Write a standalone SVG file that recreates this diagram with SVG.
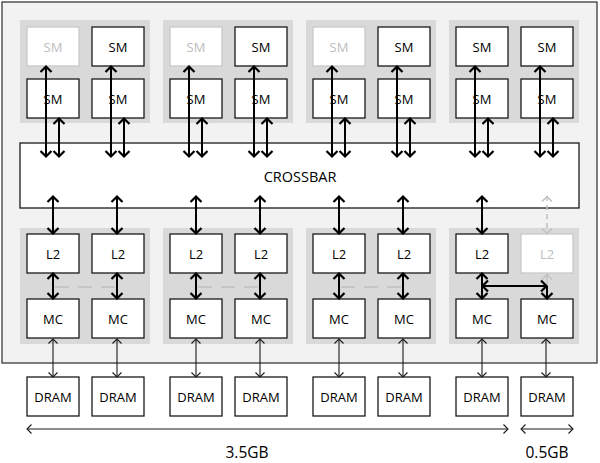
<svg xmlns="http://www.w3.org/2000/svg" width="600" height="463" viewBox="0 0 600 463">
<style>
text{font-family:"Open Sans","Liberation Sans",sans-serif;font-size:13px;fill:#000;text-anchor:middle}
.box{fill:#fff;stroke:#1a1a1a;stroke-width:1.3}
.off{fill:#fff;stroke:#c8c8c8;stroke-width:1.3}
.offt{fill:#bdbdbd}
.grp{fill:#d9d9d9}
.k{stroke:#000;stroke-width:2;fill:none;marker-start:url(#ah);marker-end:url(#ah)}
.t{stroke:#1a1a1a;stroke-width:1.1;fill:none;marker-start:url(#th);marker-end:url(#th)}
.g{stroke:#c0c0c0;stroke-width:1.5;fill:none;stroke-dasharray:5 4;marker-start:url(#gh);marker-end:url(#gh)}
.gd{stroke:#c0c0c0;stroke-width:1.5;fill:none;stroke-dasharray:14 9}
.big{font-size:14.5px}
.lab{font-size:15.5px}
</style>
<defs>
<marker id="ah" viewBox="-7 -7 14 14" markerWidth="14" markerHeight="14" markerUnits="userSpaceOnUse" refX="0.5" refY="0" orient="auto-start-reverse"><path d="M-5.5,-5.5 L0,0 L-5.5,5.5" fill="none" stroke="#000" stroke-width="2.2"/></marker>
<marker id="th" viewBox="-7 -7 14 14" markerWidth="14" markerHeight="14" markerUnits="userSpaceOnUse" refX="0" refY="0" orient="auto-start-reverse"><path d="M-4.5,-4.5 L0,0 L-4.5,4.5" fill="none" stroke="#1a1a1a" stroke-width="1.1"/></marker>
<marker id="gh" viewBox="-7 -7 14 14" markerWidth="14" markerHeight="14" markerUnits="userSpaceOnUse" refX="0.5" refY="0" orient="auto-start-reverse"><path d="M-5,-5 L0,0 L-5,5" fill="none" stroke="#c0c0c0" stroke-width="1.5"/></marker>
</defs>
<rect x="0" y="0" width="600" height="463" fill="#fff"/>
<g id="chip"><rect x="2" y="2" width="595" height="361" fill="#f2f2f2" stroke="#3a3a3a" stroke-width="1.3"/></g>
<g id="clusters">
<rect class="grp" x="20" y="20" width="130" height="103"/>
<rect class="grp" x="163" y="20" width="130" height="103"/>
<rect class="grp" x="306" y="20" width="130" height="103"/>
<rect class="grp" x="449" y="20" width="130" height="103"/>
<rect class="grp" x="20" y="228" width="130" height="116"/>
<rect class="grp" x="163" y="228" width="130" height="116"/>
<rect class="grp" x="306" y="228" width="130" height="116"/>
<rect class="grp" x="449" y="228" width="130" height="116"/>
</g>
<g id="sm1a"><rect class="off" x="27" y="27" width="52" height="39"/><text class="offt" x="53" y="51.5">SM</text></g>
<g id="sm1b"><rect class="box" x="92" y="27" width="52" height="39"/><text x="118" y="51.5">SM</text></g>
<g id="sm1c"><rect class="box" x="27" y="79" width="52" height="39"/><text x="53" y="103.5">SM</text></g>
<g id="sm1d"><rect class="box" x="92" y="79" width="52" height="39"/><text x="118" y="103.5">SM</text></g>
<g id="sm2a"><rect class="off" x="170" y="27" width="52" height="39"/><text class="offt" x="196" y="51.5">SM</text></g>
<g id="sm2b"><rect class="box" x="235" y="27" width="52" height="39"/><text x="261" y="51.5">SM</text></g>
<g id="sm2c"><rect class="box" x="170" y="79" width="52" height="39"/><text x="196" y="103.5">SM</text></g>
<g id="sm2d"><rect class="box" x="235" y="79" width="52" height="39"/><text x="261" y="103.5">SM</text></g>
<g id="sm3a"><rect class="off" x="313" y="27" width="52" height="39"/><text class="offt" x="339" y="51.5">SM</text></g>
<g id="sm3b"><rect class="box" x="378" y="27" width="52" height="39"/><text x="404" y="51.5">SM</text></g>
<g id="sm3c"><rect class="box" x="313" y="79" width="52" height="39"/><text x="339" y="103.5">SM</text></g>
<g id="sm3d"><rect class="box" x="378" y="79" width="52" height="39"/><text x="404" y="103.5">SM</text></g>
<g id="sm4a"><rect class="box" x="456" y="27" width="52" height="39"/><text x="482" y="51.5">SM</text></g>
<g id="sm4b"><rect class="box" x="521" y="27" width="52" height="39"/><text x="547" y="51.5">SM</text></g>
<g id="sm4c"><rect class="box" x="456" y="79" width="52" height="39"/><text x="482" y="103.5">SM</text></g>
<g id="sm4d"><rect class="box" x="521" y="79" width="52" height="39"/><text x="547" y="103.5">SM</text></g>
<g id="crossbar"><rect class="box" x="20" y="143" width="559" height="65"/><text class="big" x="300" y="181.5">CROSSBAR</text></g>
<g id="l2-1a"><rect class="box" x="27" y="234" width="52" height="39"/><text x="53" y="258.5">L2</text></g>
<g id="l2-1b"><rect class="box" x="92" y="234" width="52" height="39"/><text x="118" y="258.5">L2</text></g>
<g id="l2-2a"><rect class="box" x="170" y="234" width="52" height="39"/><text x="196" y="258.5">L2</text></g>
<g id="l2-2b"><rect class="box" x="235" y="234" width="52" height="39"/><text x="261" y="258.5">L2</text></g>
<g id="l2-3a"><rect class="box" x="313" y="234" width="52" height="39"/><text x="339" y="258.5">L2</text></g>
<g id="l2-3b"><rect class="box" x="378" y="234" width="52" height="39"/><text x="404" y="258.5">L2</text></g>
<g id="l2-4a"><rect class="box" x="456" y="234" width="52" height="39"/><text x="482" y="258.5">L2</text></g>
<g id="l2-4b"><rect class="off" x="521" y="234" width="52" height="39"/><text class="offt" x="547" y="258.5">L2</text></g>
<g id="mc1a"><rect class="box" x="27" y="299" width="52" height="39"/><text x="53" y="323.5">MC</text></g>
<g id="mc1b"><rect class="box" x="92" y="299" width="52" height="39"/><text x="118" y="323.5">MC</text></g>
<g id="mc2a"><rect class="box" x="170" y="299" width="52" height="39"/><text x="196" y="323.5">MC</text></g>
<g id="mc2b"><rect class="box" x="235" y="299" width="52" height="39"/><text x="261" y="323.5">MC</text></g>
<g id="mc3a"><rect class="box" x="313" y="299" width="52" height="39"/><text x="339" y="323.5">MC</text></g>
<g id="mc3b"><rect class="box" x="378" y="299" width="52" height="39"/><text x="404" y="323.5">MC</text></g>
<g id="mc4a"><rect class="box" x="456" y="299" width="52" height="39"/><text x="482" y="323.5">MC</text></g>
<g id="mc4b"><rect class="box" x="521" y="299" width="52" height="39"/><text x="547" y="323.5">MC</text></g>
<g id="dram1a"><rect class="box" x="27" y="377" width="52" height="39"/><text x="53" y="401.5">DRAM</text></g>
<g id="dram1b"><rect class="box" x="92" y="377" width="52" height="39"/><text x="118" y="401.5">DRAM</text></g>
<g id="dram2a"><rect class="box" x="170" y="377" width="52" height="39"/><text x="196" y="401.5">DRAM</text></g>
<g id="dram2b"><rect class="box" x="235" y="377" width="52" height="39"/><text x="261" y="401.5">DRAM</text></g>
<g id="dram3a"><rect class="box" x="313" y="377" width="52" height="39"/><text x="339" y="401.5">DRAM</text></g>
<g id="dram3b"><rect class="box" x="378" y="377" width="52" height="39"/><text x="404" y="401.5">DRAM</text></g>
<g id="dram4a"><rect class="box" x="456" y="377" width="52" height="39"/><text x="482" y="401.5">DRAM</text></g>
<g id="dram4b"><rect class="box" x="521" y="377" width="52" height="39"/><text x="547" y="401.5">DRAM</text></g>
<g id="connectors">
<line class="gd" x1="55" y1="287" x2="117" y2="287"/>
<line class="gd" x1="198" y1="287" x2="260" y2="287"/>
<line class="gd" x1="341" y1="287" x2="403" y2="287"/>
<line class="k" x1="46" y1="157" x2="46" y2="66"/>
<line class="k" x1="59" y1="157" x2="59" y2="118"/>
<line class="k" x1="111" y1="157" x2="111" y2="66"/>
<line class="k" x1="124" y1="157" x2="124" y2="118"/>
<line class="k" x1="189" y1="157" x2="189" y2="66"/>
<line class="k" x1="202" y1="157" x2="202" y2="118"/>
<line class="k" x1="254" y1="157" x2="254" y2="66"/>
<line class="k" x1="267" y1="157" x2="267" y2="118"/>
<line class="k" x1="332" y1="157" x2="332" y2="66"/>
<line class="k" x1="345" y1="157" x2="345" y2="118"/>
<line class="k" x1="397" y1="157" x2="397" y2="66"/>
<line class="k" x1="410" y1="157" x2="410" y2="118"/>
<line class="k" x1="475" y1="157" x2="475" y2="66"/>
<line class="k" x1="488" y1="157" x2="488" y2="118"/>
<line class="k" x1="540" y1="157" x2="540" y2="66"/>
<line class="k" x1="553" y1="157" x2="553" y2="118"/>
<line class="k" x1="53" y1="196" x2="53" y2="234"/>
<line class="k" x1="117" y1="196" x2="117" y2="234"/>
<line class="k" x1="196" y1="196" x2="196" y2="234"/>
<line class="k" x1="260" y1="196" x2="260" y2="234"/>
<line class="k" x1="339" y1="196" x2="339" y2="234"/>
<line class="k" x1="403" y1="196" x2="403" y2="234"/>
<line class="k" x1="482" y1="196" x2="482" y2="234"/>
<line class="g" x1="547" y1="196" x2="547" y2="234"/>
<line class="k" x1="53" y1="273" x2="53" y2="299"/>
<line class="k" x1="117" y1="273" x2="117" y2="299"/>
<line class="k" x1="196" y1="273" x2="196" y2="299"/>
<line class="k" x1="260" y1="273" x2="260" y2="299"/>
<line class="k" x1="339" y1="273" x2="339" y2="299"/>
<line class="k" x1="403" y1="273" x2="403" y2="299"/>
<line class="k" x1="482" y1="273" x2="482" y2="299"/>
<line stroke="#c0c0c0" stroke-width="1.5" fill="none" x1="547" y1="274" x2="547" y2="284" marker-start="url(#gh)"/>
<line class="k" x1="482" y1="286" x2="547" y2="286"/>
<line stroke="#000" stroke-width="2" fill="none" x1="547" y1="286" x2="547" y2="299" marker-end="url(#ah)"/>
<line class="t" x1="53" y1="339" x2="53" y2="377"/>
<line class="t" x1="117" y1="339" x2="117" y2="377"/>
<line class="t" x1="196" y1="339" x2="196" y2="377"/>
<line class="t" x1="260" y1="339" x2="260" y2="377"/>
<line class="t" x1="339" y1="339" x2="339" y2="377"/>
<line class="t" x1="403" y1="339" x2="403" y2="377"/>
<line class="t" x1="482" y1="339" x2="482" y2="377"/>
<line class="t" x1="546" y1="339" x2="546" y2="377"/>
<line class="t" x1="27" y1="429" x2="508" y2="429"/>
<line class="t" x1="521" y1="429" x2="573" y2="429"/>
</g>
<g id="labels">
<text class="lab" x="247" y="458">3.5GB</text>
<text class="lab" x="547" y="458">0.5GB</text>
</g>
</svg>
